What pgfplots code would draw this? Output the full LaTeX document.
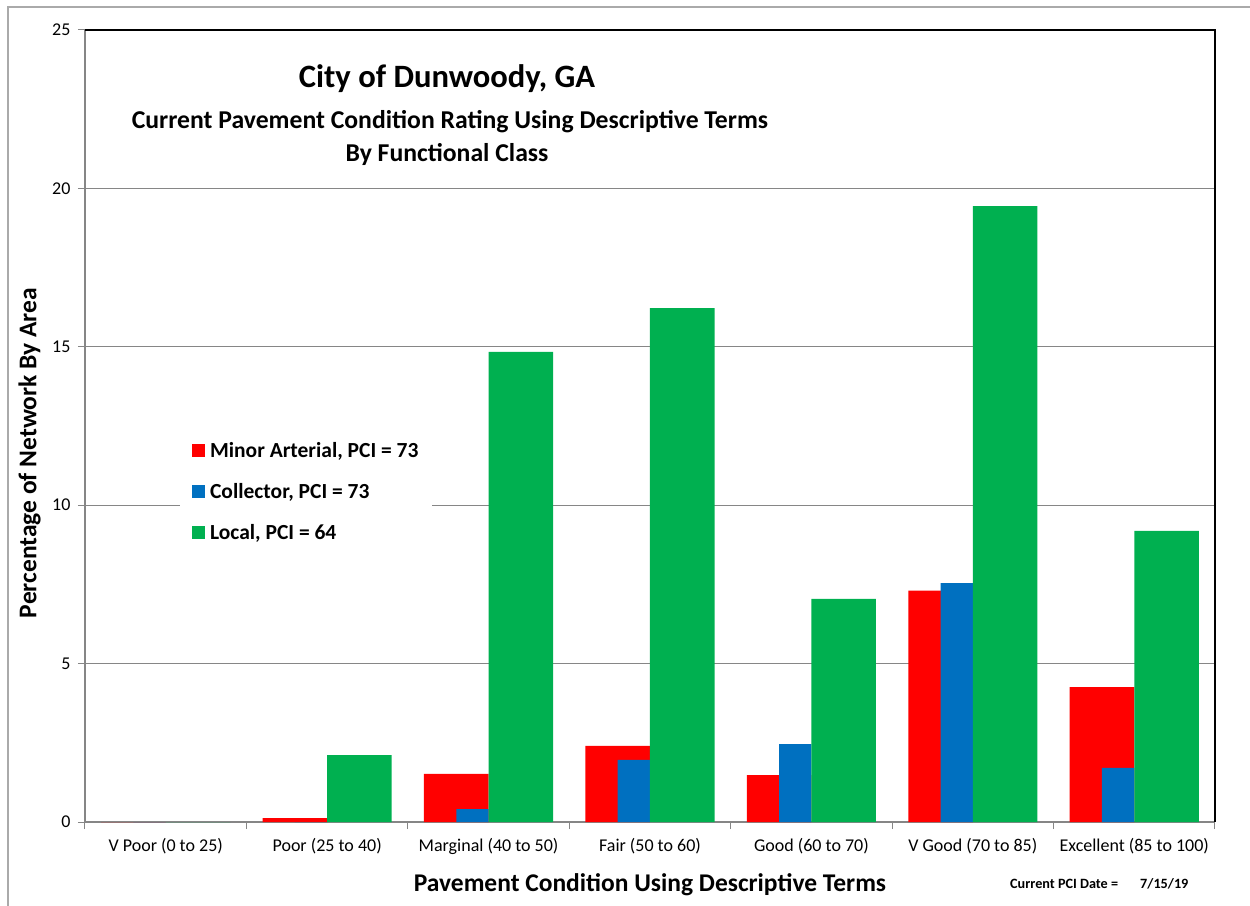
\documentclass[border=0pt]{standalone}
\usepackage{pgfplots}
\pgfplotsset{compat=1.18}
\usepackage{fontspec}
\setmainfont{Carlito}
\definecolor{cred}{RGB}{255,0,0}
\definecolor{cblue}{RGB}{0,112,192}
\definecolor{cgreen}{RGB}{0,176,80}
\definecolor{gridgray}{RGB}{134,134,134}
\definecolor{framegray}{RGB}{170,170,170}
\begin{document}
\begin{tikzpicture}
% axis box south west corner sits at (0,0); 1pt = 1px of the reference
\begin{axis}[
  at={(0pt,0pt)}, anchor=south west,
  scale only axis, width=1130pt, height=792pt,
  xmin=-0.5, xmax=6.5, ymin=0, ymax=25,
  axis x line*=bottom, axis y line*=left,
  axis line style={gridgray, line width=1.5pt, -},
  tick align=outside,
  xtick={0,...,6},
  xticklabels={V Poor (0 to 25),Poor (25 to 40),Marginal (40 to 50),Fair (50 to 60),Good (60 to 70),V Good (70 to 85),Excellent (85 to 100)},
  major x tick style={draw=none},
  minor xtick={-0.5,0.5,...,6.5},
  minor x tick style={gridgray, line width=1pt},
  minor tick length=7pt,
  ytick={0,5,...,25},
  major y tick style={gridgray, line width=1pt},
  major tick length=7pt,
  ymajorgrids, grid style={gridgray, line width=1pt},
  ticklabel style={font=\fontsize{18}{20}\selectfont},
  /pgf/number format/assume math mode=true,
  xticklabel style={yshift=-6pt},
  yticklabel style={xshift=-4pt},
  xlabel={Pavement Condition Using Descriptive Terms},
  ylabel={Percentage of Network By Area},
  label style={font=\bfseries\fontsize{25.5}{30}\selectfont},
  x label style={at={(axis description cs:0.5,-0.0795)}, anchor=center},
  y label style={at={(axis description cs:-0.049,0.466)}, anchor=center},
  legend style={at={(axis description cs:0.084,0.495)}, anchor=north west,
    draw=none, fill=white, inner xsep=12pt, inner ysep=0pt,
    row sep=0pt, font=\bfseries\fontsize{21.5}{24}\selectfont},
  legend cell align=left,
  clip=false,
]
\addplot[ybar, bar width=0.4, bar shift=-0.2, fill=cred, draw=none,
  legend image code/.code={\fill[cred] (0pt,-6.5pt) rectangle (13pt,6.5pt); \path[draw=none,fill=none] (0pt,-20.5pt) rectangle (16pt,20.5pt);}]
  coordinates {(0,0) (1,0.12) (2,1.52) (3,2.40) (4,1.48) (5,7.30) (6,4.26)};
\addplot[ybar, bar width=0.2, bar shift=-0.1, fill=cblue, draw=none,
  legend image code/.code={\fill[cblue] (0pt,-6.5pt) rectangle (13pt,6.5pt); \path[draw=none,fill=none] (0pt,-20.5pt) rectangle (16pt,20.5pt);}]
  coordinates {(0,0) (1,0) (2,0.41) (3,1.96) (4,2.46) (5,7.54) (6,1.71)};
\addplot[ybar, bar width=0.4, bar shift=0.2, fill=cgreen, draw=none,
  legend image code/.code={\fill[cgreen] (0pt,-6.5pt) rectangle (13pt,6.5pt); \path[draw=none,fill=none] (0pt,-20.5pt) rectangle (16pt,20.5pt);}]
  coordinates {(0,0) (1,2.11) (2,14.84) (3,16.22) (4,7.04) (5,19.44) (6,9.19)};
\legend{Minor Arterial{,} PCI = 73, Collector{,} PCI = 73, Local{,} PCI = 64}
\draw[black, line width=1.5pt] (rel axis cs:0,1) -- (rel axis cs:1,1) -- (rel axis cs:1,0);
\end{axis}
\node[font=\bfseries\fontsize{32.6}{38}\selectfont] at (362pt,743pt) {City of Dunwoody, GA};
\node[font=\bfseries\fontsize{25.7}{30}\selectfont] at (365pt,700pt) {Current Pavement Condition Rating Using Descriptive Terms};
\node[font=\bfseries\fontsize{25.7}{30}\selectfont] at (362pt,668pt) {By Functional Class};
\node[font=\bfseries\fontsize{14.2}{17}\selectfont, anchor=west, inner sep=0pt] at (925pt,-62pt) {Current PCI Date =};
\node[font=\bfseries\fontsize{14.2}{17}\selectfont, anchor=west, inner sep=0pt] at (1055pt,-62pt) {7/15/19};
\pgfresetboundingbox
\path[use as bounding box] (-85pt,-83pt) rectangle (1165pt,822pt);
\draw[framegray, line width=1.5pt] (-77pt,-100pt) -- (-77pt,815pt) -- (1200pt,815pt);
\end{tikzpicture}
\end{document}
